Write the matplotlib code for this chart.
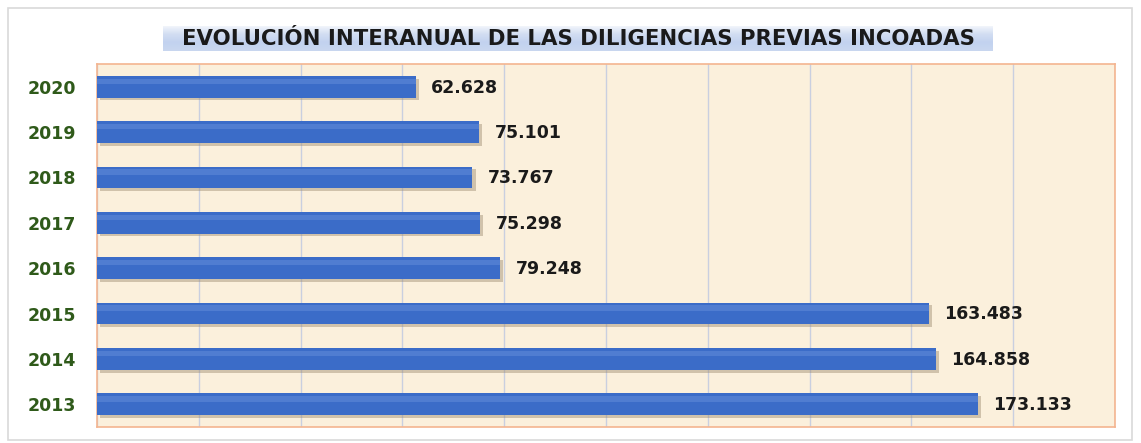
import numpy as np
import matplotlib.pyplot as plt
from matplotlib.patches import Rectangle
from matplotlib.colors import LinearSegmentedColormap

years = ['2013', '2014', '2015', '2016', '2017', '2018', '2019', '2020']
values = [173133, 164858, 163483, 79248, 75298, 73767, 75101, 62628]
labels = ['173.133', '164.858', '163.483', '79.248', '75.298', '73.767', '75.101', '62.628']

fig = plt.figure(figsize=(11.41, 4.43), dpi=100)
fig.patch.set_facecolor('white')

# marco gris exterior
fig.patches.append(Rectangle((8 / 1141, 3 / 443), 1124 / 1141, 432 / 443, transform=fig.transFigure,
                             fill=False, edgecolor='#d9d9d9', linewidth=1.2))

# caja del titulo con degradado azul
tax = fig.add_axes([163 / 1141, (443 - 51) / 443, 830 / 1141, 25 / 443])
cm = LinearSegmentedColormap.from_list('t', ['#f4f7fc', '#d3def2', '#c2d2ef', '#c9d7f0'])
vg = np.linspace(0, 1, 30)[:, None] * np.ones((1, 200))
tax.imshow(vg, aspect='auto', cmap=cm, extent=[0, 1, 0, 1], origin='upper')
tax.axis('off')
tax.text(0.5, 0.47, 'EVOLUCIÓN INTERANUAL DE LAS DILIGENCIAS PREVIAS INCOADAS',
         ha='center', va='center', fontsize=15.3, fontweight='bold', color='#1a1a1a',
         family='DejaVu Sans')

ax = fig.add_axes([97 / 1141, 16 / 443, 1018 / 1141, 363 / 443])
ax.set_facecolor('#fbf0dc')
y = np.arange(len(years))

# sombra
ax.barh(y - 0.06, values, height=0.48, color='#9c8a70', alpha=0.45, zorder=2, left=600)
ax.barh(y, values, height=0.48, color='#3b6cc8', zorder=3)
# brillo superior
ax.barh(y + 0.12, values, height=0.12, color='#5f8ad8', alpha=0.6, zorder=4)

for yi, v, lab in zip(y, values, labels):
    ax.text(v + 3000, yi - 0.02, lab, va='center', ha='left', fontsize=12.5,
            fontweight='bold', color='#1a1a1a', zorder=5)

ax.set_xlim(0, 200000)
ax.set_ylim(-0.5, 7.5)
ax.set_xticks(np.arange(0, 200001, 20000))
ax.tick_params(axis='x', length=0, labelbottom=False)
ax.grid(axis='x', color='#c9cfe0', linewidth=1, zorder=1)
ax.set_axisbelow(True)
ax.set_yticks(y)
ax.set_yticklabels(years, fontsize=12.5, fontweight='bold', color='#2f5a1a')
ax.tick_params(axis='y', length=0, pad=15)
for s in ax.spines.values():
    s.set_color('#f4b590')
    s.set_linewidth(1.2)

fig.savefig('out.png', dpi=100)
